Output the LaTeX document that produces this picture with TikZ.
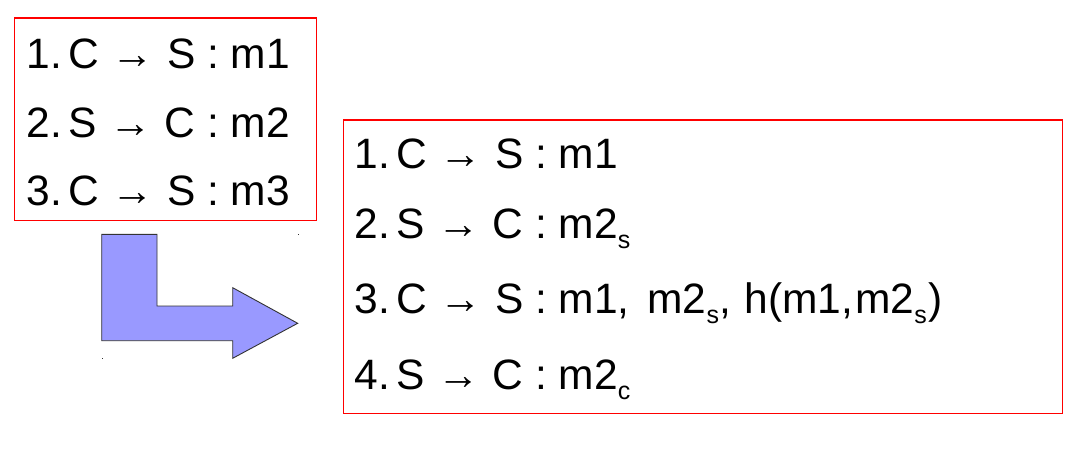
\documentclass[tikz,border=0pt]{standalone}
\usepackage{fontspec}
\setmainfont{Liberation Sans}
\newcommand\myarr{\makebox[68pt]{→}}
\newcommand\mysub[1]{\raisebox{-10.5pt}{\fontsize{25}{25}\selectfont #1}}
\newcommand\num[1]{\makebox[41.5pt][l]{#1}}
\definecolor{boxred}{RGB}{255,0,0}
\definecolor{arrowfill}{RGB}{153,153,255}
\tikzset{
  redbox/.style={draw=boxred, line width=1.5pt, inner sep=0pt, fill=none, rectangle, anchor=north west},
  line/.style={anchor=base west, inner sep=0pt, text=black, font=\fontsize{42.5}{42.5}\selectfont},
  bigarrow/.style={draw=black!80, line width=0.9pt, fill=arrowfill, line join=miter},
  speck/.style={fill=black!80}
}
\begin{document}
\begin{tikzpicture}[x=1pt,y=-1pt]
\useasboundingbox (0,0) rectangle (1072,452);
% boxes
\node[redbox, minimum width=302pt, minimum height=202pt] (box1) at (13.5,17.5) {};
\node[redbox, minimum width=719pt, minimum height=293pt] (box2) at (342.5,119.5) {};
% first box text
\node[line] (a1) at (26.7,68.3) {\num{1.}C\myarr S : m1};
\node[line] (a2) at (26.7,137.7) {\num{2.}S\myarr C : m2};
\node[line] (a3) at (26.7,205) {\num{3.}C\myarr S : m3};
% second box text
\node[line] (b1) at (354.7,168.3) {\num{1.}C\myarr S : m1};
\node[line] (b2) at (354.7,238.3) {\num{2.}S\myarr C : m2\mysub{s}};
\node[line] (b3) at (354.7,313.3) {\num{3.}C\myarr S : m1,\hspace{6pt} m2\mysub{s},\hspace{2pt} h(m1,\hspace{2pt}m2\mysub{s}\hspace{2pt})};
\node[line] (b4) at (354.7,389.3) {\num{4.}S\myarr C : m2\mysub{c}};
% bent arrow
\draw[bigarrow] (101.7,234.3) -- (157,234.3) -- (157,306) -- (232.7,306) -- (232.7,287.7)
  -- (297.7,323.3) -- (232.7,358.3) -- (232.7,340.7) -- (101.7,340.7) -- cycle;
\fill[speck] (297.5,233.8) rectangle (299,234.8);
\fill[speck] (101.8,357.8) rectangle (102.8,358.8);
\end{tikzpicture}
\end{document}
